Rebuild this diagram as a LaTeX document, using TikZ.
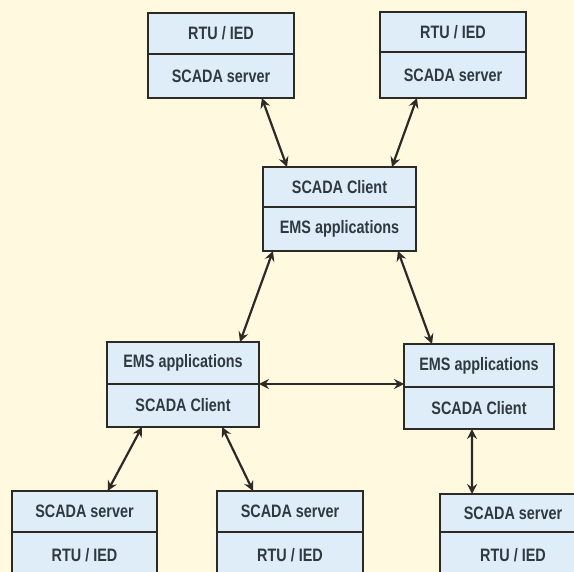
\documentclass[tikz,border=0pt]{standalone}
\usepackage{fontspec}
\setmainfont{Liberation Sans}[FakeStretch=0.8]
\usetikzlibrary{arrows.meta,calc}
\definecolor{paper}{RGB}{255,249,224}
\definecolor{cellfill}{RGB}{222,237,247}
\definecolor{edge}{RGB}{45,42,38}
\definecolor{ink}{RGB}{48,56,64}
\tikzset{
  cell/.style={draw=edge, line width=2pt, fill=cellfill, anchor=north west,
    inner sep=0pt, outer sep=0pt, text=ink,
    font=\fontsize{18}{20}\selectfont\bfseries},
  link/.style={draw=edge, line width=2.2pt,
    {Stealth[length=10pt,width=10pt,inset=3.5pt]}-{Stealth[length=10pt,width=10pt,inset=3.5pt]}}
}
\begin{document}
\begin{tikzpicture}[x=1pt,y=-1pt]
\fill[paper] (0,0) rectangle (574,572);
\useasboundingbox (0,0) rectangle (574,572);
\begin{scope}
\clip (0,0) rectangle (574,572);
% top row: field devices feeding SCADA servers
\node[cell, minimum width=146pt, minimum height=41pt] (tl-a) at (148,13) {RTU / IED};
\node[cell, minimum width=146pt, minimum height=44pt] (tl-b) at (148,54) {SCADA server};
\node[cell, minimum width=146pt, minimum height=40pt] (tr-a) at (380,12) {RTU / IED};
\node[cell, minimum width=146pt, minimum height=46pt] (tr-b) at (380,52) {SCADA server};
% central control centre
\node[cell, minimum width=153pt, minimum height=40pt] (c-a) at (263,167) {SCADA Client};
\node[cell, minimum width=153pt, minimum height=44pt] (c-b) at (263,207) {EMS applications};
% regional control centres
\node[cell, minimum width=152pt, minimum height=42pt] (ml-a) at (107,342) {EMS applications};
\node[cell, minimum width=152pt, minimum height=43pt] (ml-b) at (107,384) {SCADA Client};
\node[cell, minimum width=150pt, minimum height=43pt] (mr-a) at (404,344) {EMS applications};
\node[cell, minimum width=150pt, minimum height=42pt] (mr-b) at (404,387) {SCADA Client};
% bottom row: SCADA servers over field devices
\node[cell, minimum width=145pt, minimum height=41pt] (bl-a) at (12,491) {SCADA server};
\node[cell, minimum width=145pt, minimum height=46pt] (bl-b) at (12,532) {RTU / IED};
\node[cell, minimum width=146pt, minimum height=41pt] (bm-a) at (217,491) {SCADA server};
\node[cell, minimum width=146pt, minimum height=46pt] (bm-b) at (217,532) {RTU / IED};
\node[cell, minimum width=146pt, minimum height=38pt] (br-a) at (440,494) {SCADA server};
\node[cell, minimum width=146pt, minimum height=46pt] (br-b) at (440,532) {RTU / IED};
\end{scope}
% connectors
\draw[link] ($(tl-b.south west)!0.78!(tl-b.south east)$) -- ($(c-a.north west)!0.157!(c-a.north east)$);
\draw[link] ($(tr-b.south west)!0.253!(tr-b.south east)$) -- ($(c-a.north west)!0.843!(c-a.north east)$);
\draw[link] ($(c-b.south west)!0.065!(c-b.south east)$) -- ($(ml-a.north west)!0.875!(ml-a.north east)$);
\draw[link] ($(c-b.south west)!0.882!(c-b.south east)$) -- ($(mr-a.north west)!0.187!(mr-a.north east)$);
\draw[link] (ml-a.south east) -- (mr-a.west |- ml-a.south east);
\draw[link] ($(ml-b.south west)!0.23!(ml-b.south east)$) -- ($(bl-a.north west)!0.66!(bl-a.north east)$);
\draw[link] ($(ml-b.south west)!0.757!(ml-b.south east)$) -- ($(bm-a.north west)!0.247!(bm-a.north east)$);
\draw[link] ($(mr-b.south west)!0.453!(mr-b.south east)$) -- ($(br-a.north west)!0.22!(br-a.north east)$);
\end{tikzpicture}
\end{document}
